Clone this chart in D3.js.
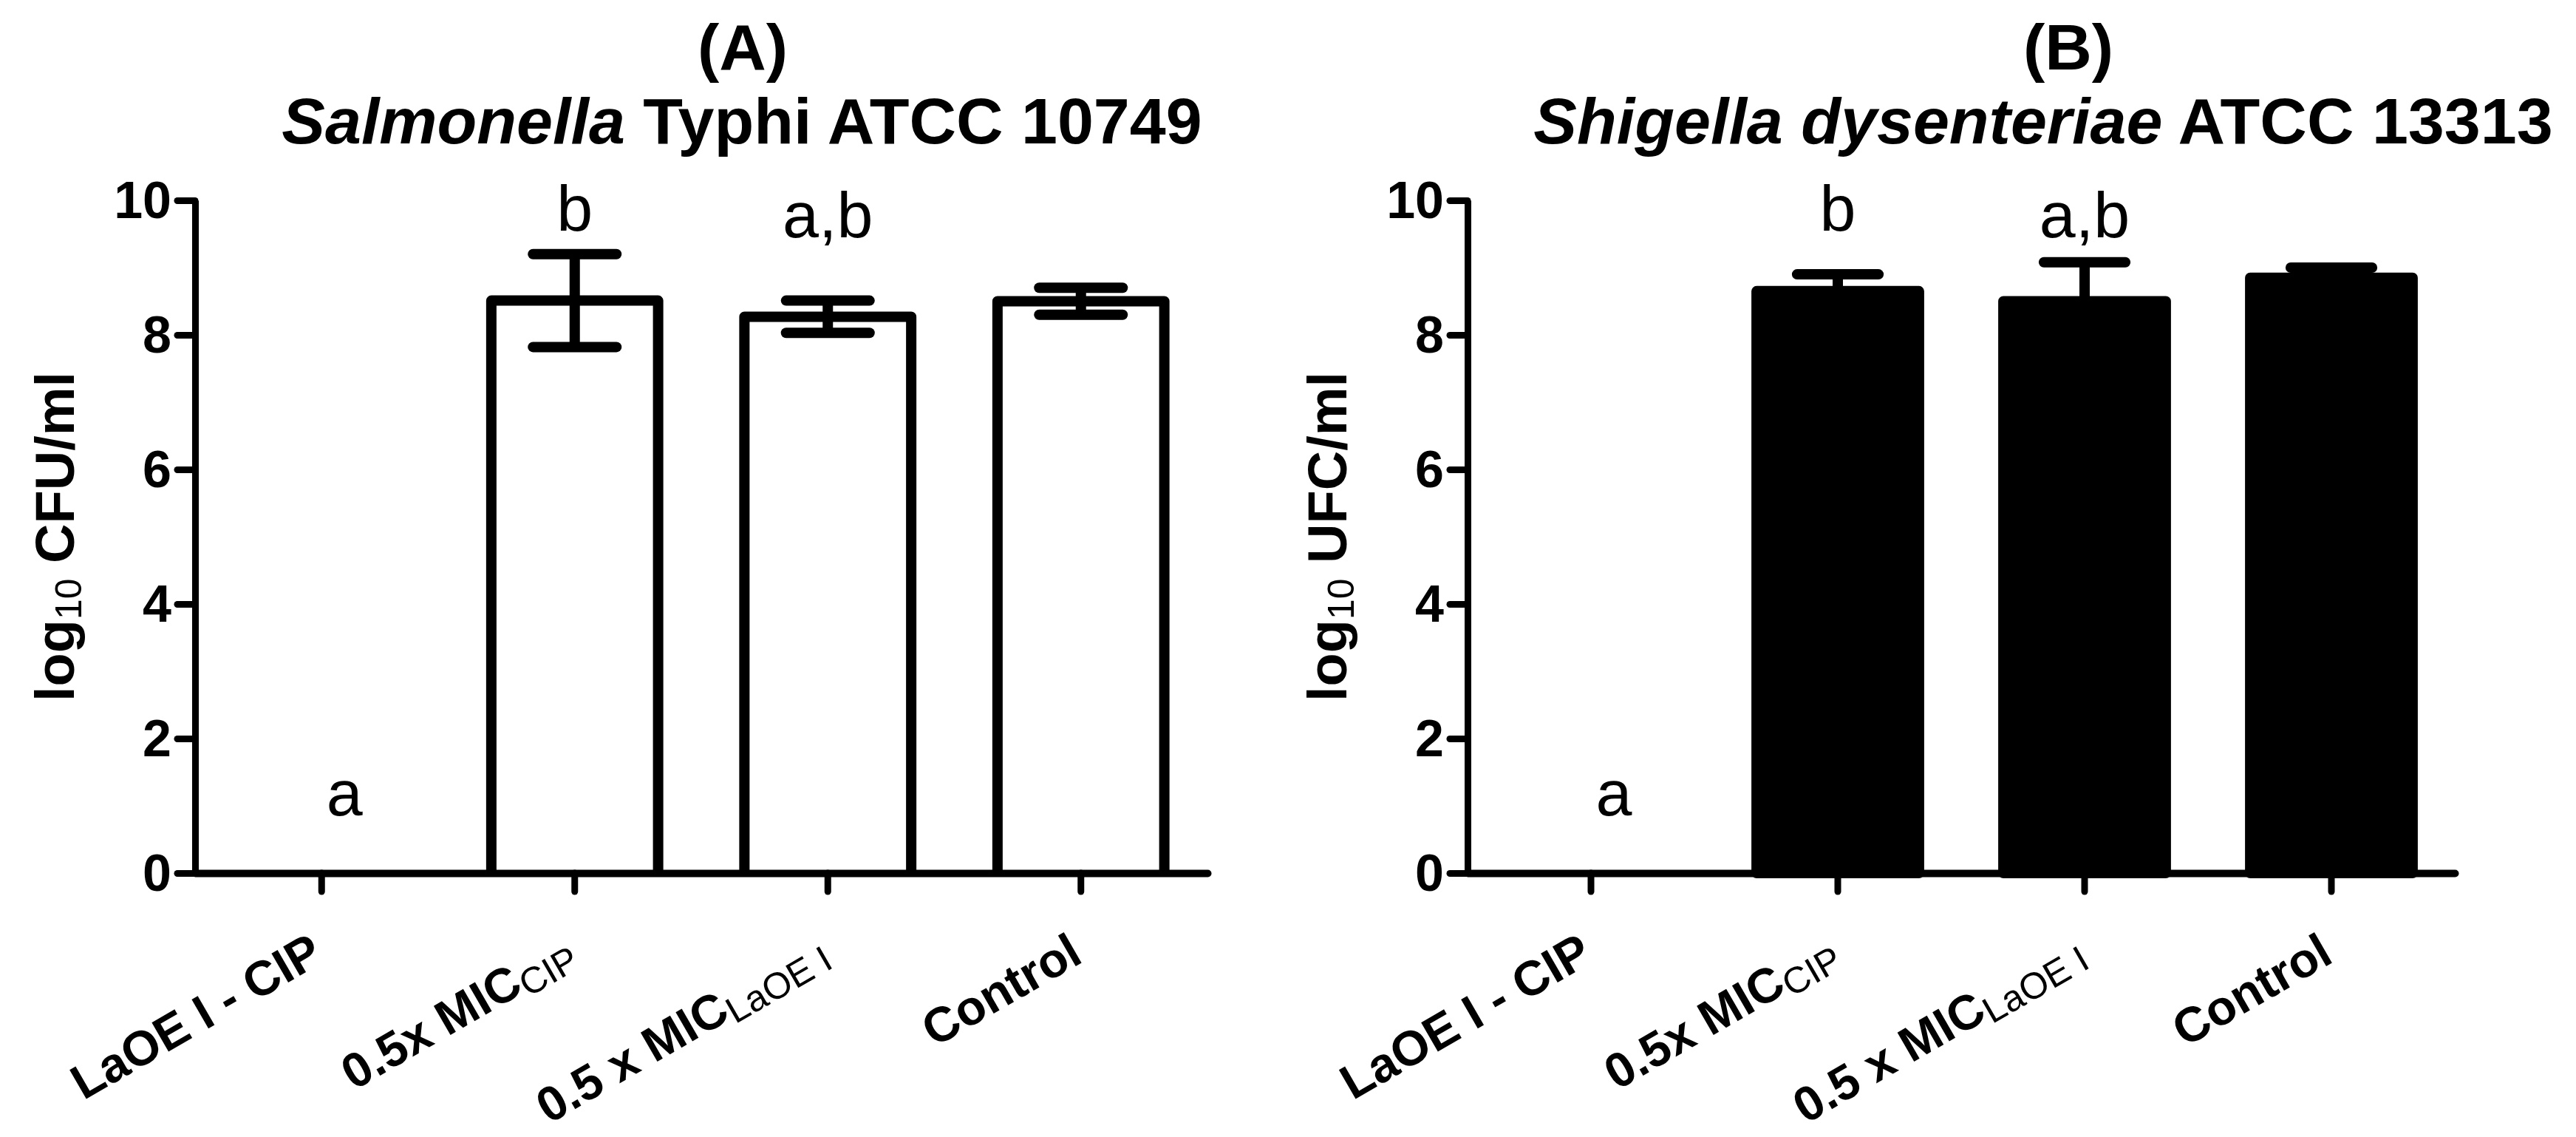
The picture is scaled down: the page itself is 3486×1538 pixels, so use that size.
<!DOCTYPE html>
<html><head><meta charset="utf-8">
<script src="https://cdn.jsdelivr.net/npm/d3@7"></script>
<style>html,body{margin:0;padding:0;background:#fff;} svg{display:block}</style>
</head><body>
<svg id="c" width="3486" height="1538"></svg>
<script>
// ---- data ----
const categoriesMain = ["LaOE I - CIP", "0.5x MIC", "0.5 x MIC", "Control"];
const categoriesSub = ["", "CIP", "LaOE I", ""];
const salmonellaMeans = [0, 8.51, 8.27, 8.50];
const salmonellaErrors = [0, 0.69, 0.24, 0.20];
const shigellaMeans = [0, 8.65, 8.50, 8.85];
const shigellaErrors = [0, 0.25, 0.58, 0.15];
const significanceLetters = ["a", "b", "a,b", ""];
const letterValues = [0.86, 9.55, 9.45, null];
const yTickValues = [0, 2, 4, 6, 8, 10];
const panelLetters = ["(A)", "(B)"];
const organismItalic = ["Salmonella", "Shigella dysenteriae"];
const organismRest = [" Typhi ATCC 10749", " ATCC 13313"];
const yLabelUnits = [" CFU/ml", " UFC/ml"];

// ---- layout ----
const FONT = "'Liberation Sans', Arial, Helvetica, sans-serif";
const panels = [
  {x0: 264, x1: 1634, fill: "#ffffff", means: salmonellaMeans, errs: salmonellaErrors, titleX: 1004, letterX: 1005, ylabX: 100},
  {x0: 1986, x1: 3322, fill: "#000000", means: shigellaMeans, errs: shigellaErrors, titleX: 2765, letterX: 2799, ylabX: 1822}
];
const svg = d3.select("#c");
svg.append("rect").attr("width", 3486).attr("height", 1538).attr("fill", "#fff");
const y = d3.scaleLinear().domain([0, 10]).range([1181, 271]);
const firstLetterShift = 31;

panels.forEach((p, pi) => {
  const g = svg.append("g");
  const x = d3.scaleBand().domain(d3.range(categoriesMain.length)).range([p.x0, p.x1]).paddingInner(0).paddingOuter(0);
  const step = x.step();
  const barW = 0.70 * step - 14;
  const capW = 0.33 * step;
  const cx = i => x(i) + x.bandwidth() / 2;

  const data = p.means.map((m, i) => ({i, m, e: p.errs[i]})).filter(d => d.m > 0);

  // bars (open at bottom)
  g.selectAll("path.bar").data(data).join("path")
    .attr("class", "bar")
    .attr("d", d => {
      const pth = d3.path();
      pth.moveTo(cx(d.i) - barW / 2, y(0));
      pth.lineTo(cx(d.i) - barW / 2, y(d.m));
      pth.lineTo(cx(d.i) + barW / 2, y(d.m));
      pth.lineTo(cx(d.i) + barW / 2, y(0));
      if (p.fill !== "#ffffff") pth.closePath();
      return pth.toString();
    })
    .attr("fill", p.fill).attr("stroke", "#000").attr("stroke-width", 14)
    .attr("stroke-linejoin", "round");

  // error bars
  const eg = g.selectAll("g.err").data(data).join("g").attr("class", "err")
    .attr("stroke", "#000").attr("stroke-width", 14).attr("stroke-linecap", "round");
  eg.append("line").attr("x1", d => cx(d.i)).attr("x2", d => cx(d.i))
    .attr("y1", d => y(d.m + d.e)).attr("y2", d => y(d.m - d.e)).attr("stroke-linecap", "butt");
  eg.append("line").attr("x1", d => cx(d.i) - capW / 2).attr("x2", d => cx(d.i) + capW / 2)
    .attr("y1", d => y(d.m + d.e)).attr("y2", d => y(d.m + d.e));
  eg.append("line").attr("x1", d => cx(d.i) - capW / 2).attr("x2", d => cx(d.i) + capW / 2)
    .attr("y1", d => y(d.m - d.e)).attr("y2", d => y(d.m - d.e));

  // y axis
  const ya = g.append("g").attr("transform", `translate(${p.x0},0)`)
    .call(d3.axisLeft(y).tickValues(yTickValues).tickSize(24).tickSizeOuter(0).tickPadding(8).tickFormat(d3.format("d")));
  ya.select(".domain").attr("stroke-width", 9).attr("stroke", "#000");
  ya.selectAll(".tick line").attr("stroke-width", 9).attr("stroke-linecap", "round").attr("stroke", "#000");
  ya.selectAll(".tick text").attr("font-family", FONT).attr("font-size", 70).attr("font-weight", "bold").attr("fill", "#000").attr("dy", "0.33em");

  // x axis
  const xa = g.append("g").attr("transform", `translate(0,${y(0)})`)
    .call(d3.axisBottom(x).tickSize(25).tickSizeOuter(0).tickFormat(""));
  xa.select(".domain").attr("stroke-width", 10).attr("stroke", "#000").attr("stroke-linecap", "round");
  xa.selectAll(".tick line").attr("stroke-width", 9).attr("stroke-linecap", "round").attr("stroke", "#000");
  xa.selectAll(".tick text").remove();

  // rotated category labels
  categoriesMain.forEach((lab, i) => {
    const t = g.append("text")
      .attr("transform", `translate(${cx(i) + 5},1300) rotate(-30)`)
      .attr("text-anchor", "end").attr("font-family", FONT).attr("fill", "#000");
    t.append("tspan").attr("font-size", 66).attr("font-weight", "bold").text(lab);
    if (categoriesSub[i]) {
      t.append("tspan").attr("font-size", 50).attr("font-weight", "normal").attr("dy", 9).text(categoriesSub[i]);
    }
  });

  // significance letters
  significanceLetters.forEach((l, i) => {
    if (!l) return;
    g.append("text").attr("x", cx(i) + (i === 0 ? firstLetterShift : 0)).attr("y", y(letterValues[i]))
      .attr("text-anchor", "middle").attr("font-family", FONT).attr("font-size", 88)
      .attr("font-weight", "normal").attr("fill", "#000").text(l);
  });

  // y label
  const yl = g.append("text")
    .attr("transform", `translate(${p.ylabX},${(y(0) + y(10)) / 2}) rotate(-90)`)
    .attr("text-anchor", "middle").attr("font-family", FONT).attr("fill", "#000");
  yl.append("tspan").attr("font-size", 74).attr("font-weight", "bold").text("log");
  yl.append("tspan").attr("font-size", 50).attr("font-weight", "normal").attr("dy", 10).text("10");
  yl.append("tspan").attr("font-size", 74).attr("font-weight", "bold").attr("dy", -10).text(yLabelUnits[pi]);

  // titles
  g.append("text").attr("x", p.letterX).attr("y", 94).attr("text-anchor", "middle")
    .attr("font-family", FONT).attr("font-size", 88).attr("font-weight", "bold").attr("fill", "#000")
    .text(panelLetters[pi]);
  const st = g.append("text").attr("x", p.titleX).attr("y", 194).attr("text-anchor", "middle")
    .attr("font-family", FONT).attr("font-size", 88).attr("font-weight", "bold").attr("fill", "#000");
  st.append("tspan").attr("font-style", "italic").text(organismItalic[pi]);
  st.append("tspan").text(organismRest[pi]);
});
</script>
</body></html>
